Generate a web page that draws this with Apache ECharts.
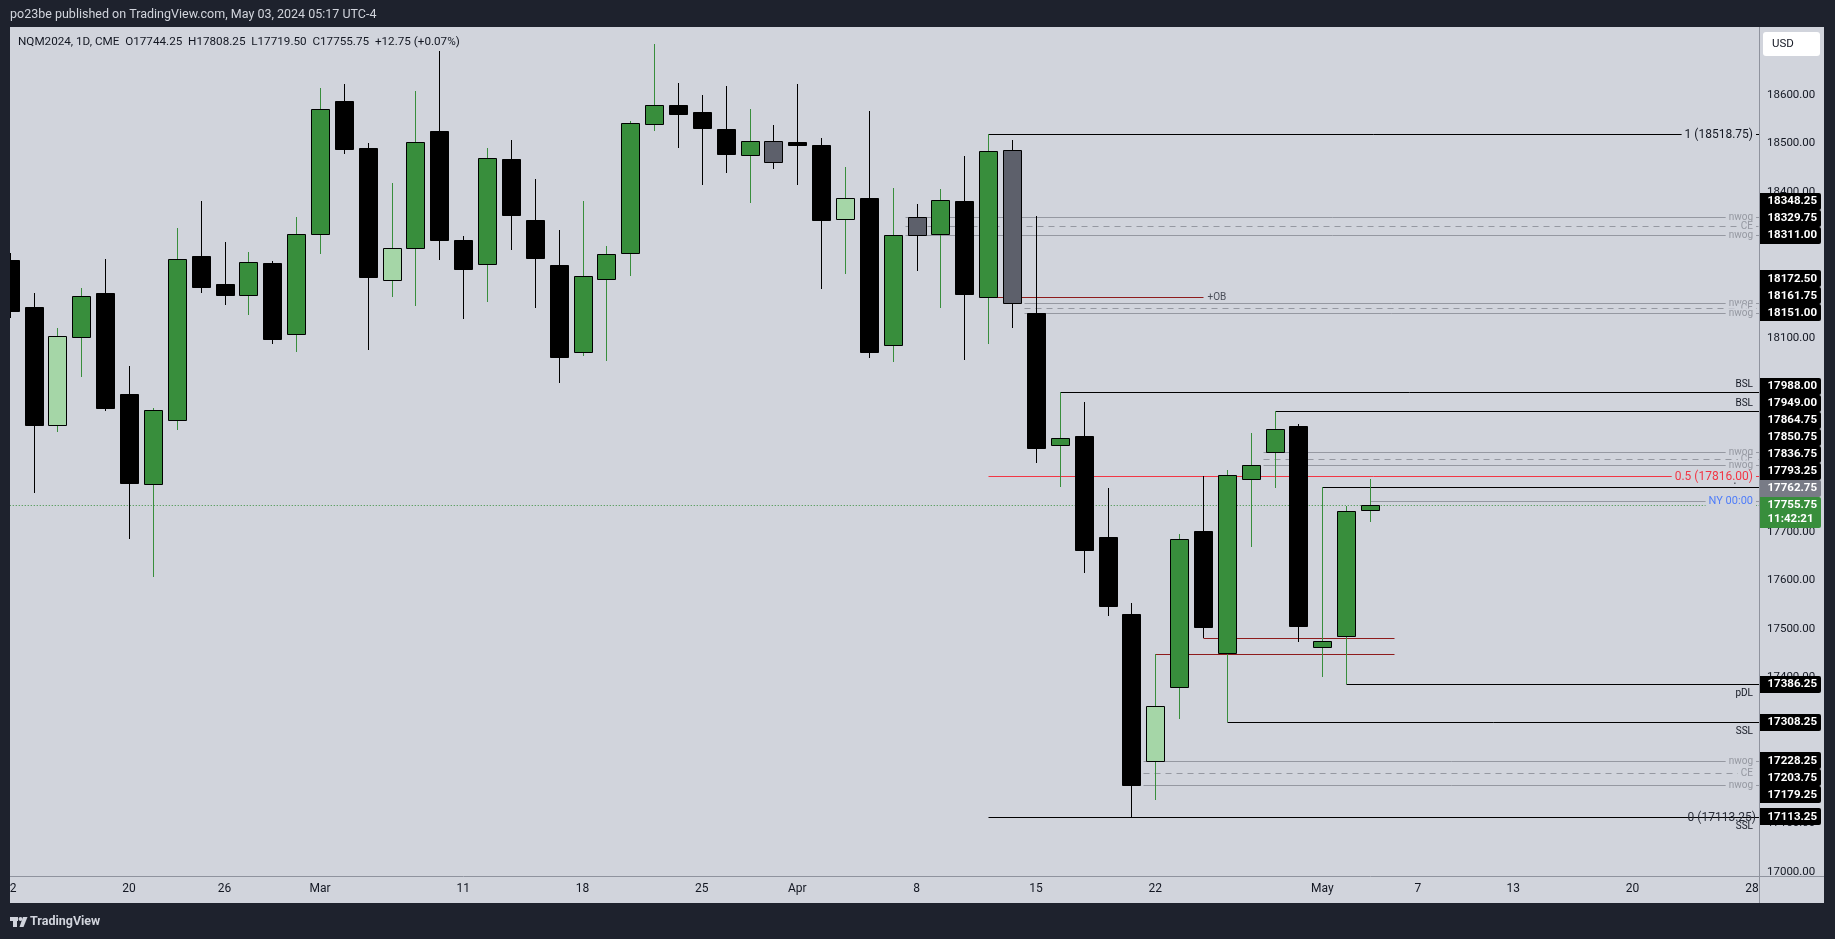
<!DOCTYPE html>
<html><head><meta charset="utf-8">
<script src="https://cdn.jsdelivr.net/npm/echarts@6/dist/echarts.min.js"></script>
<style>html,body{margin:0;padding:0;background:#1e222d;}#c{width:1835px;height:939px;}</style>
</head><body><div id="c"></div>
<script>
// ---------------- DATA ----------------
const tradingDays = [
 '2024-02-12','2024-02-13','2024-02-14','2024-02-15','2024-02-16','2024-02-20','2024-02-21','2024-02-22','2024-02-23',
 '2024-02-26','2024-02-27','2024-02-28','2024-02-29','2024-03-01','2024-03-04','2024-03-05','2024-03-06','2024-03-07','2024-03-08',
 '2024-03-11','2024-03-12','2024-03-13','2024-03-14','2024-03-15','2024-03-18','2024-03-19','2024-03-20','2024-03-21','2024-03-22',
 '2024-03-25','2024-03-26','2024-03-27','2024-03-28','2024-04-01','2024-04-02','2024-04-03','2024-04-04','2024-04-05',
 '2024-04-08','2024-04-09','2024-04-10','2024-04-11','2024-04-12','2024-04-15','2024-04-16','2024-04-17','2024-04-18','2024-04-19',
 '2024-04-22','2024-04-23','2024-04-24','2024-04-25','2024-04-26','2024-04-29','2024-04-30','2024-05-01','2024-05-02','2024-05-03',
 '2024-05-06','2024-05-07','2024-05-08','2024-05-09','2024-05-10','2024-05-13','2024-05-14','2024-05-15','2024-05-16','2024-05-17',
 '2024-05-20','2024-05-21','2024-05-22','2024-05-23','2024-05-24','2024-05-28','2024-05-29','2024-05-30','2024-05-31'
];
const openPx  = [18260,18163,17920,18101,18192,17984,17799,17931,18268,18211,18187,18254,18108,18314,18588,18491,18218,18284,18526,
 18301,18251,18468,18342,18250,18071,18220,18274,18540,18579,18566,18529,18476,18505,18503,18496,18344,18387,18084,
 18348.25,18313,18381,18183,18486,18151,17878,17898,17689,17531,17228.25,17380,17701,17449.5,17808,17864.75,17918,17462,17486,17744.25];
const highPx  = [18275,18192,18120,18202,18262,18042,17955,18326,18382,18297,18277,18257,18349,18614,18623,18501,18419,18608,18690,
 18310,18491,18507,18427,18322,18382,18289,18546,18706,18625,18600,18619,18571,18538,18623,18511,18452,18567,18408,
 18376,18406,18474,18518.75,18507,18351,17988,17968,17790,17553,17448,17695,17815,17828,17904,17949,17922,17793.25,17754,17808.25];
const lowPx   = [18140,17781,17906,18020,17950,17686,17608,17910,18193,18167,18147,18087,18071,18272,18478,18075,18184,18166,18261,
 18139,18174,18281,18162,18007,18063,18053,18228,18526,18491,18415,18440,18378,18448,18415,18201,18232,18058,18050,
 18238,18162,18055,18088,18121,17842,17793,17616,17527,17113.25,17148,17314,17481,17308.25,17669,17791,17474,17400,17386.25,17719.5];
const closePx = [18154,17921,18103,18185,17956,17801,17952,18262,18205,18188,18255,18097,18314,18571,18489,18226,18284,18503,18302,
 18242,18470,18353,18265,18061,18227,18272,18542,18579,18561,18533,18479,18505,18463,18496,18343,18387,18071,18311,
 18311,18383,18191,18484,18172.5,17873,17893,17662,17547,17179.25,17341,17686,17504,17817,17836.75,17911,17507,17475,17743,17755.75];

const timeTickDays = ['2024-02-12','2024-02-20','2024-02-26','2024-03-01','2024-03-11','2024-03-18','2024-03-25','2024-04-01',
 '2024-04-08','2024-04-15','2024-04-22','2024-05-01','2024-05-07','2024-05-13','2024-05-20','2024-05-28'];
const timeTickText = ['12','20','26','Mar','11','18','25','Apr','8','15','22','May','7','13','20','28'];
const priceTicks = [17000,17100,17200,17300,17400,17500,17600,17700,17800,17900,18000,18100,18200,18300,18400,18500,18600];

// new week opening gaps (Friday close / Monday open)
const nwogTop    = [18348.25, 18172.50, 17864.75, 17228.25];
const nwogCE     = [18329.75, 18161.75, 17850.75, 17203.75];
const nwogBottom = [18311.00, 18151.00, 17836.75, 17179.25];
const nwogFriday = ['2024-04-05','2024-04-12','2024-04-26','2024-04-19'];

// liquidity levels
const liqName  = ['BSL','BSL','pDH','pDL','SSL','SSL'];
const liqPrice = [17988.00, 17949.00, 17793.25, 17386.25, 17308.25, 17113.25];
const liqStart = ['2024-04-16','2024-04-29','2024-05-01','2024-05-02','2024-04-25','2024-04-19'];

// fibonacci
const fibLevel = [1, 0.5, 0];
const fibPrice = [18518.75, 17816.00, 17113.25];
const fibStart = '2024-04-11';

// order block + range lines
const obPrice = 18183.00, obStart = '2024-04-11', obEnd = '2024-04-24';
const rangePrice = [17481.00, 17448.00];
const rangeStart = ['2024-04-24','2024-04-22'];
const rangeEnd = '2024-05-06';

const nyOpenPrice = 17762.75, nyOpenDay = '2024-05-03';
const countdown = '11:42:21';

// ---------------- BUILD ----------------
const dayIdx = d => tradingDays.indexOf(d);
const nBars = openPx.length;
const lastClose = closePx[nBars-1], prevClose = closePx[nBars-2];
const chg = lastClose - prevClose;

const candleData = openPx.map((o,i)=>[i,o,highPx[i],lowPx[i],closePx[i]]);
const isInside = i => i>0 && highPx[i] <= highPx[i-1] && lowPx[i] >= lowPx[i-1];

const GREEN='#388e3c', LGREEN='#a5d6a7', GRAY='#5d606b', BLACK='#000000';
const LINEGRAY='#9598a1', DARKRED='#8e1c1c', RED='#f23645', TXT='#131722';
const FONT='Roboto, "Noto Sans", sans-serif';

const levels = [];
nwogTop.forEach((p,k)=>{
  const s = dayIdx(nwogFriday[k]) + 0.5;
  levels.push({start:s, price:nwogTop[k], kind:'nwog', label:'nwog'});
  levels.push({start:s, price:nwogCE[k], kind:'ce', label:'CE'});
  levels.push({start:s, price:nwogBottom[k], kind:'nwog', label:'nwog'});
});
liqName.forEach((n,k)=>levels.push({start:dayIdx(liqStart[k]), price:liqPrice[k], kind:(n==='BSL'||n==='pDH')?'above':'below', label:n}));
fibLevel.forEach((lv,k)=>levels.push({start:dayIdx(fibStart), price:fibPrice[k], kind:'fib', level:lv,
  label: lv + ' (' + fibPrice[k].toFixed(2) + ')'}));
levels.push({start:dayIdx(obStart), end:dayIdx(obEnd), price:obPrice, kind:'ob', label:'+OB'});
rangePrice.forEach((p,k)=>levels.push({start:dayIdx(rangeStart[k]), end:dayIdx(rangeEnd), price:p, kind:'range'}));
levels.push({start:dayIdx(nyOpenDay), price:nyOpenPrice, kind:'ny', label:'NY 00:00'});
levels.push({start:null, price:lastClose, kind:'last'});

const boxLabels = [];
nwogTop.forEach((p,k)=>{ boxLabels.push({price:nwogTop[k]}); boxLabels.push({price:nwogCE[k]}); boxLabels.push({price:nwogBottom[k]}); });
liqPrice.forEach(p=>boxLabels.push({price:p}));
boxLabels.push({price:nyOpenPrice, gray:true});

const tickIdx = timeTickDays.map(dayIdx);
const tickMap = {}; tickIdx.forEach((v,k)=>tickMap[v]=timeTickText[k]);

function txt(x,y,text,opt){
  return {type:'text', x:x, y:y, z2: opt.z2||10, style:Object.assign({text:text, fill:opt.fill||TXT, font:opt.font||('10px '+FONT),
    align:opt.align||'left', textAlign:opt.align||'left', verticalAlign:opt.va||'middle', textVerticalAlign:opt.va||'middle'},
    opt.bg?{backgroundColor:opt.bg, padding:opt.pad||[0,4]}:{})};
}

function renderCandle(params, api){
  const i=api.value(0), o=api.value(1), h=api.value(2), l=api.value(3), c=api.value(4);
  const bull = c >= o, inside = isInside(params.dataIndex);
  const pO=api.coord([i,o]), pC=api.coord([i,c]), pH=api.coord([i,h]), pL=api.coord([i,l]);
  const cx = Math.round(pO[0]) + 0.5;
  const bw = Math.round(api.size([1,0])[0]*0.76);
  const wick = bull ? GREEN : BLACK;
  const fill = bull ? (inside?LGREEN:GREEN) : (inside?GRAY:BLACK);
  const top = Math.round(Math.min(pO[1],pC[1])), bot = Math.round(Math.max(pO[1],pC[1]));
  return {type:'group', children:[
    {type:'line', shape:{x1:cx,y1:Math.round(pH[1]),x2:cx,y2:Math.round(pL[1])}, style:{stroke:wick, lineWidth:1}},
    {type:'rect', shape:{x:cx-bw/2, y:top+0.5, width:bw, height:Math.max(1,bot-top)}, style:{fill:fill, stroke:BLACK, lineWidth:1}}
  ]};
}

function renderLevel(params, api){
  const lv = levels[params.dataIndex];
  const cs = params.coordSys;
  const right = cs.x + cs.width;
  const p = api.coord([lv.start==null?0:lv.start, lv.price]);
  const x1 = lv.start==null ? cs.x : Math.round(p[0])+0.5;
  const x2 = lv.end!=null ? Math.round(api.coord([lv.end, lv.price])[0])+0.5 : right;
  const y = Math.round(p[1]) + 0.5;
  const ch = [];
  let stroke = BLACK, dash = null;
  if (lv.kind==='nwog' || lv.kind==='ce' || lv.kind==='ny') stroke = LINEGRAY;
  if (lv.kind==='ce') dash=[6,5];
  if (lv.kind==='ob' || lv.kind==='range') stroke = DARKRED;
  if (lv.kind==='fib') stroke = lv.level===0.5 ? RED : BLACK;
  if (lv.kind==='last') { stroke = GREEN; dash=[1,2]; }
  ch.push({type:'line', shape:{x1:x1,y1:y,x2:x2,y2:y}, style:{stroke:stroke, lineWidth:1, lineDash:dash}});
  const lx = right - 6;
  if (lv.kind==='nwog' || lv.kind==='ce') ch.push(txt(lx+3, y, lv.label, {fill:LINEGRAY, font:'10px '+FONT, align:'right', bg:'#d1d4dc', pad:[0,3]}));
  if (lv.kind==='above') ch.push(txt(lx, y-8, lv.label, {font:'10px '+FONT, align:'right'}));
  if (lv.kind==='below') ch.push(txt(lx, y+9, lv.label, {font:'10px '+FONT, align:'right'}));
  if (lv.kind==='fib') ch.push(txt(lx+3, y, lv.label, lv.level===0 ? {font:'12px '+FONT, align:'right', fill:'#2a2e39'}
      : {font:'12px '+FONT, align:'right', fill:lv.level===0.5?RED:TXT, bg:'#d1d4dc', pad:[0,3]}));
  if (lv.kind==='ob') ch.push(txt(x2+4, y, lv.label, {font:'10px '+FONT, fill:'#4a4e59'}));
  if (lv.kind==='ny') ch.push(txt(lx+3, y, lv.label, {font:'11px '+FONT, align:'right', fill:'#4f7df9', bg:'#d1d4dc', pad:[0,3]}));
  return {type:'group', children:ch};
}

function renderBoxes(params, api){
  const cs = params.coordSys;
  const ax = cs.x + cs.width;
  const W = 62, H = 17;
  const yOf = p => api.coord([0,p])[1];
  const ly = yOf(lastClose);
  const curTop = ly - 8, curBot = ly + 23;
  const ch = [];
  const above = boxLabels.filter(b=>b.price>lastClose).sort((a,b)=>a.price-b.price);
  let lim = curTop;
  above.forEach(b=>{ b.y = Math.min(yOf(b.price), lim - H/2); lim = b.y - H/2; });
  const below = boxLabels.filter(b=>b.price<lastClose).sort((a,b)=>b.price-a.price);
  lim = curBot;
  below.forEach(b=>{ b.y = Math.max(yOf(b.price), lim + H/2); lim = b.y + H/2; });
  boxLabels.forEach(b=>{
    ch.push({type:'rect', shape:{x:ax, y:Math.round(b.y-H/2), width:W, height:H, r:[0,2,2,0]}, style:{fill:b.gray?'#787b86':'#000000'}});
    ch.push(txt(ax+8.5, b.y, b.price.toFixed(2), {fill:'#ffffff', font:'bold 11.5px '+FONT}));
  });
  ch.push({type:'rect', shape:{x:ax, y:Math.round(curTop), width:W, height:31, r:[0,2,2,0]}, style:{fill:GREEN}});
  ch.push(txt(ax+8.5, ly, lastClose.toFixed(2), {fill:'#ffffff', font:'bold 11.5px '+FONT}));
  ch.push(txt(ax+8.5, ly+14.5, countdown, {fill:'#ffffff', font:'bold 11.5px '+FONT}));
  return {type:'group', children:ch};
}

const legendText = 'NQM2024, 1D, CME  O' + openPx[nBars-1].toFixed(2) + '  H' + highPx[nBars-1].toFixed(2) +
  '  L' + lowPx[nBars-1].toFixed(2) + '  C' + lastClose.toFixed(2) + '  ' + (chg>=0?'+':'') + chg.toFixed(2) +
  ' (' + (chg>=0?'+':'') + (chg/prevClose*100).toFixed(2) + '%)';

// pixel layout of the pane
const PX0 = 9.4, BAR = 23.87, PL = 10, PR = 1759, PT = 27, PB = 876;
const YTOP = 18740.1, YBOT = 16991;

const chart = echarts.init(document.getElementById('c'));
chart.setOption({
  animation:false,
  backgroundColor:'#1e222d',
  grid:{left:PX0, right:1835-PR, top:PT, bottom:939-PB, containLabel:false},
  xAxis:{type:'value', min:0, max:(PR-PX0)/BAR,
    axisLine:{show:false}, axisTick:{show:false}, splitLine:{show:false},
    axisLabel:{customValues:tickIdx, formatter:v=>tickMap[Math.round(v)]||'', color:TXT, fontFamily:FONT, fontSize:12, margin:7,
      showMinLabel:true, showMaxLabel:true}},
  yAxis:{type:'value', position:'right', min:YBOT, max:YTOP, scale:true,
    axisLine:{show:false}, axisTick:{show:false}, splitLine:{show:false},
    axisLabel:{customValues:priceTicks, formatter:v=>v.toFixed(2), color:TXT, fontFamily:FONT, fontSize:11.5, margin:8}},
  series:[
    {type:'custom', name:'levels', z:2, data:levels.map((l,k)=>[l.start==null?0:l.start, l.price, k]),
     encode:{x:0,y:1}, renderItem:renderLevel, silent:true},
    {type:'custom', name:'NQM2024', z:3, clip:true, data:candleData, encode:{x:0,y:[1,2,3,4]}, renderItem:renderCandle, silent:true},
    {type:'custom', name:'priceLabels', z:5, clip:false, data:[[0,lastClose]], encode:{x:0,y:1}, renderItem:renderBoxes, silent:true}
  ],
  graphic:{elements:[
    {type:'rect', z:-10, shape:{x:PL, y:PT, width:1824-PL, height:903-PT}, style:{fill:'#d1d4dc'}},
    {type:'rect', z:50, shape:{x:0, y:PT, width:PL, height:903-PT}, style:{fill:'#1e222d'}},
    {type:'rect', z:50, shape:{x:1824, y:PT, width:11, height:903-PT}, style:{fill:'#1e222d'}},
    {type:'line', z:40, shape:{x1:PR+0.5, y1:PT, x2:PR+0.5, y2:903}, style:{stroke:'#8f939e', lineWidth:1}},
    {type:'line', z:40, shape:{x1:PL, y1:PB+0.5, x2:1824, y2:PB+0.5}, style:{stroke:'#8f939e', lineWidth:1}},
    {type:'rect', z:40, shape:{x:1763, y:32, width:57, height:24, r:3}, style:{fill:'#ffffff'}},
    {type:'text', z:41, x:1772, y:44, style:{text:'USD', fill:TXT, font:'11.5px '+FONT, verticalAlign:'middle', textVerticalAlign:'middle'}},
    {type:'text', z:41, x:10, y:15, style:{text:'po23be published on TradingView.com, May 03, 2024 05:17 UTC-4', fill:'#d1d4dc', font:'12.5px '+FONT, verticalAlign:'middle', textVerticalAlign:'middle'}},
    {type:'text', z:41, x:18, y:42, style:{text:legendText, fill:TXT, font:'11.7px '+FONT, verticalAlign:'middle', textVerticalAlign:'middle'}},
    {type:'rect', z:41, shape:{x:10, y:917, width:8, height:4}, style:{fill:'#d1d4dc'}},
    {type:'rect', z:41, shape:{x:13, y:917, width:4, height:10}, style:{fill:'#d1d4dc'}},
    {type:'circle', z:41, shape:{cx:20.5, cy:919, r:2}, style:{fill:'#d1d4dc'}},
    {type:'polygon', z:41, shape:{points:[[23,917],[27.5,917],[23.5,927],[19.5,927]]}, style:{fill:'#d1d4dc'}},
    {type:'text', z:41, x:30, y:922, style:{text:'TradingView', fill:'#d1d4dc', font:'bold 12.5px '+FONT, verticalAlign:'middle', textVerticalAlign:'middle'}}
  ]}
});
</script></body></html>
